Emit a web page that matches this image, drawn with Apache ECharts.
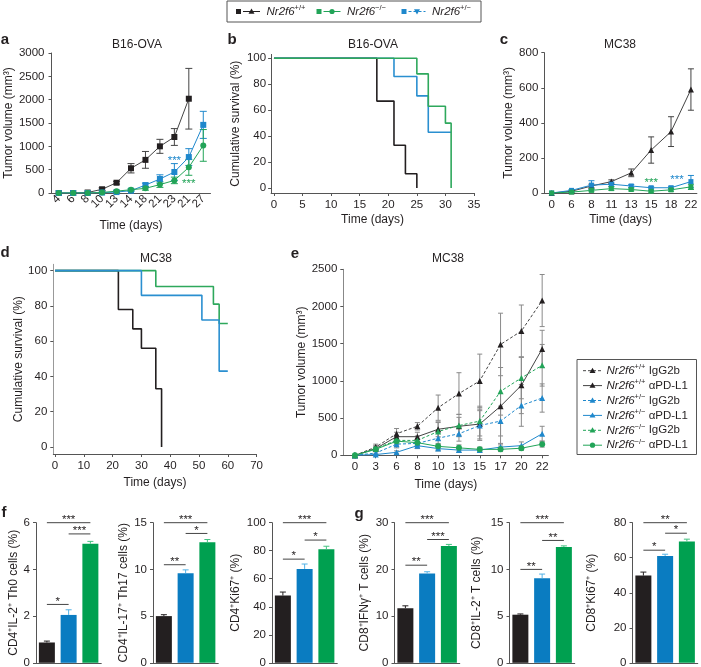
<!DOCTYPE html>
<html><head><meta charset="utf-8">
<script src="https://cdn.jsdelivr.net/npm/echarts@6/dist/echarts.min.js"></script>
<style>html,body{margin:0;padding:0;background:#fff}#c{width:701px;height:667px}</style>
</head><body><div id="c"></div>
<script>
// ---------- DATA ----------
// Panel a: B16-OVA tumor volume
const cats_a = ['4','6','8','10','13','14','18','21','23','21','27'];
const a_wt = [0,0,10,80,220,530,710,1000,1200,2020];
const a_wt_err = [0,0,5,30,30,100,180,150,180,650];
const a_het = [0,0,0,10,20,50,170,300,450,770,1460];
const a_het_err = [0,0,0,5,10,15,40,90,180,180,290];
const a_ko = [0,0,0,10,40,70,100,180,270,550,1020];
const a_ko_err = [0,0,0,5,10,20,40,60,70,170,340];
const a_notes = [[8,757,'***','het'],[9,264,'***','ko']];
// Panel b: B16-OVA survival
const b_wt_t = [0,18,21,23,25];  const b_wt_s = [100,67,33,11,0];
const b_het_t = [0,21,25,27,31]; const b_het_s = [100,86,71,43,43];
const b_ko_t = [0,25,27,30,31];  const b_ko_s = [100,88,63,50,0];
// Panel c: MC38 tumor volume
const cats_c = ['0','6','8','11','13','15','18','22'];
const c_wt = [0,10,40,65,115,245,350,590];
const c_wt_err = [0,5,10,10,22,75,85,118];
const c_het = [0,15,45,50,40,30,30,65];
const c_het_err = [0,5,25,12,8,6,8,35];
const c_ko = [0,5,15,25,20,10,18,35];
const c_ko_err = [0,3,8,10,8,5,8,15];
const c_notes = [[5,74,'***','ko'],[6.3,93,'***','het']];
// Panel d: MC38 survival
const d_wt_t = [0,22,27,30,35,37]; const d_wt_s = [100,78,67,56,33,0];
const d_het_t = [0,30,51,57,60];   const d_het_s = [100,86,72,43,43];
const d_ko_t = [0,35,55,57,60];    const d_ko_s = [100,91,81,70,70];
// Panel e: MC38 anti-PD-L1
const cats_e = ['0','3','6','8','10','13','15','17','20','22'];
const e_wt_igg = [0,110,290,390,640,830,1000,1490,1670,2080];
const e_wt_igg_err = [0,40,70,50,170,280,360,420,350,350];
const e_wt_pd = [0,90,250,250,350,390,420,660,940,1430];
const e_wt_pd_err = [0,40,60,60,100,120,200,520,380,250];
const e_het_igg = [0,30,150,160,230,290,400,460,670,770];
const e_het_igg_err = [0,20,50,50,80,100,200,200,280,190];
const e_het_pd = [0,10,40,130,90,70,70,110,130,290];
const e_het_pd_err = [0,10,20,40,30,30,30,50,50,100];
const e_ko_igg = [0,90,200,200,320,400,460,860,1040,1210];
const e_ko_igg_err = [0,30,60,60,120,150,200,320,280,280];
const e_ko_pd = [0,80,190,170,120,100,80,80,95,150];
const e_ko_pd_err = [0,30,50,40,40,40,30,30,30,40];
// Panels f, g: bar charts (order: +/+, +/-, -/-)
const groups = ['+/+','+/−','−/−'];
const f1 = [0.87,2.05,5.1],  f1_err = [0.06,0.22,0.1];
const f2 = [5.0,9.6,12.9],   f2_err = [0.15,0.35,0.3];
const f3 = [48,67,81],       f3_err = [2.5,3.5,2.2];
const g1 = [11.7,19.1,25.0], g1_err = [0.5,0.4,0.35];
const g2 = [5.15,9.05,12.4], g2_err = [0.08,0.45,0.12];
const g3 = [49.8,61,69.3],   g3_err = [2,1,1.3];
const f1_sig = [[0,1,2.5,'*'],[1,2,5.52,'***'],[0,2,6.0,'***']];
const f2_sig = [[0,1,10.5,'**'],[1,2,13.85,'*'],[0,2,15,'***']];
const f3_sig = [[0,1,74,'*'],[1,2,87.6,'*'],[0,2,100,'***']];
const g1_sig = [[0,1,20.9,'**'],[1,2,26.4,'***'],[0,2,30,'***']];
const g2_sig = [[0,1,10.0,'**'],[1,2,13.1,'**'],[0,2,15,'***']];
const g3_sig = [[0,1,64.3,'*'],[1,2,74,'*'],[0,2,80,'**']];

// ---------- STYLE ----------
const FONT = '"Liberation Sans", Arial, Helvetica, sans-serif';
const INK = '#231f20', AXC = '#555';
const BLACK = '#231f20', BLUE = '#1f88cc', GREEN = '#22a458';
const BAR_COL = ['#231f20','#0a7cc1','#00a050'];
const BAR_ERR = ['#231f20','#52b2e6','#45c282'];
const KM_BLUE = '#2a8fd0', KM_GREEN = '#2ea85c';

const grids = [], xAxes = [], yAxes = [], series = [], graphics = [];
const lab = {fontFamily: FONT, fontSize: 11.5, color: INK, formatter: v => String(v)};
const nameStyle = {fontFamily: FONT, fontSize: 12, color: INK};

function addGrid(g){ grids.push(Object.assign({outerBoundsMode:'none', containLabel:false}, g)); return grids.length-1; }
function axisBase(gi, o){
  const base = {gridIndex: gi, nameLocation:'middle', nameTextStyle: Object.assign({}, nameStyle),
    axisLine:{show:true, onZero:false, lineStyle:{color:AXC, width:1}},
    axisTick:{show:true, length:3, lineStyle:{color:AXC}},
    splitLine:{show:false}, axisLabel: Object.assign({}, lab)};
  for (const k in o){
    if (o[k] && typeof o[k]==='object' && !Array.isArray(o[k]) && base[k] && typeof base[k]==='object') base[k] = Object.assign({}, base[k], o[k]);
    else base[k] = o[k];
  }
  return base;
}
function errSeries(gi, xs, vals, errs, color, cap, upOnly){
  const data = [];
  vals.forEach((v,i)=>{ if (errs[i] > 0) data.push([xs[i], upOnly ? v : v-errs[i], v+errs[i]]); });
  return {type:'custom', xAxisIndex:gi, yAxisIndex:gi, silent:true, z: upOnly?3:3, data, encode:{x:0, y:[1,2]},
    renderItem:(p, api)=>{
      const x = api.value(0), a = api.coord([x, api.value(1)]), b = api.coord([x, api.value(2)]);
      const st = {stroke:color, lineWidth:1};
      const ch = [{type:'line', shape:{x1:a[0],y1:a[1],x2:b[0],y2:b[1]}, style:st},
                  {type:'line', shape:{x1:b[0]-cap,y1:b[1],x2:b[0]+cap,y2:b[1]}, style:st}];
      if (!upOnly) ch.push({type:'line', shape:{x1:a[0]-cap,y1:a[1],x2:a[0]+cap,y2:a[1]}, style:st});
      return {type:'group', children:ch};
    }};
}
function lineSeries(gi, data, color, symbol, o){
  return Object.assign({type:'line', xAxisIndex:gi, yAxisIndex:gi, data, symbol, symbolSize:6, showSymbol:true,
    lineStyle:{color, width:1}, itemStyle:{color}, z:4, silent:true}, o||{});
}
function noteSeries(gi, notes){
  return {type:'custom', xAxisIndex:gi, yAxisIndex:gi, silent:true, z:6, data: notes.map(n=>[n[0], n[1]]), encode:{x:0,y:1},
    renderItem:(p, api)=>{ const n = notes[p.dataIndex]; const c = api.coord([n[0], n[1]]);
      return {type:'text', style:{text:n[2], x:c[0], y:c[1]+3, align:'center', verticalAlign:'middle', fontFamily:FONT, fontSize:11.5, fill: n[3]==='het'?BLUE:GREEN}}; }};
}
function sigSeries(gi, sig){
  return {type:'custom', xAxisIndex:gi, yAxisIndex:gi, silent:true, z:6, data: sig.map(s=>[s[0], s[1], s[2]]), encode:{x:[0,1], y:2},
    renderItem:(p, api)=>{ const s = sig[p.dataIndex]; const a = api.coord([s[0], s[2]]), b = api.coord([s[1], s[2]]);
      return {type:'group', children:[
        {type:'line', shape:{x1:a[0],y1:a[1],x2:b[0],y2:b[1]}, style:{stroke:'#444', lineWidth:1}},
        {type:'text', style:{text:s[3], x:(a[0]+b[0])/2, y:a[1]+3, align:'center', verticalAlign:'bottom', fontFamily:FONT, fontSize:11.5, fill:INK}}]}; }};
}
const idx = arr => arr.map((_,i)=>i);
const pairs = (xs, ys) => xs.map((x,i)=>[x, ys[i]]);

// ---------- PANEL a ----------
let gi = addGrid({left:51.5, top:53, width:159, height:140});
xAxes.push(axisBase(gi, {type:'category', data:cats_a, boundaryGap:true, axisTick:{show:false}, axisLabel:{rotate:45, margin:4, interval:0}, name:'Time (days)', nameGap:27}));
yAxes.push(axisBase(gi, {type:'value', min:0, max:3000, interval:500, axisLabel:{margin:7}, name:'Tumor volume (mm³)', nameGap:33}));
series.push(errSeries(gi, idx(a_wt), a_wt, a_wt_err, '#444', 3.5));
series.push(errSeries(gi, idx(a_het), a_het, a_het_err, BLUE, 3.5));
series.push(errSeries(gi, idx(a_ko), a_ko, a_ko_err, GREEN, 3.5));
series.push(lineSeries(gi, a_wt, BLACK, 'rect', {lineStyle:{color:'#444',width:1}}));
series.push(lineSeries(gi, a_het, BLUE, 'rect'));
series.push(lineSeries(gi, a_ko, GREEN, 'circle'));
series.push(noteSeries(gi, a_notes));

// ---------- PANEL b ----------
gi = addGrid({left:271.1, top:54.4, width:202.9, height:138.6});
xAxes.push(axisBase(gi, {type:'value', min:-0.5, max:35, axisLabel:{customValues:[0,5,10,15,20,25,30,35], margin:6}, axisTick:{customValues:[0,5,10,15,20,25,30,35]}, name:'Time (days)', nameGap:21}));
yAxes.push(axisBase(gi, {type:'value', min:-3.86, max:103, axisLabel:{customValues:[0,20,40,60,80,100], margin:5}, axisTick:{customValues:[0,20,40,60,80,100]}, name:'Cumulative survival (%)', nameGap:29}));
series.push(lineSeries(gi, pairs(b_wt_t, b_wt_s), BLACK, 'none', {step:'end', lineStyle:{color:BLACK,width:1.6}}));
series.push(lineSeries(gi, pairs(b_het_t, b_het_s), KM_BLUE, 'none', {step:'end', lineStyle:{color:KM_BLUE,width:1.6}}));
series.push(lineSeries(gi, pairs(b_ko_t, b_ko_s), KM_GREEN, 'none', {step:'end', lineStyle:{color:KM_GREEN,width:1.6}}));

// ---------- PANEL c ----------
gi = addGrid({left:544.3, top:52.7, width:152.6, height:140.3});
xAxes.push(axisBase(gi, {type:'value', min:-0.37, max:7.3, axisTick:{show:false}, axisLabel:{customValues:idx(cats_c), formatter:v=>cats_c[Math.round(v)], margin:6}, name:'Time (days)', nameGap:21}));
yAxes.push(axisBase(gi, {type:'value', min:0, max:800, interval:200, axisLabel:{margin:6}, name:'Tumor volume (mm³)', nameGap:30}));
series.push(errSeries(gi, idx(c_wt), c_wt, c_wt_err, '#444', 3));
series.push(errSeries(gi, idx(c_het), c_het, c_het_err, BLUE, 3));
series.push(errSeries(gi, idx(c_ko), c_ko, c_ko_err, GREEN, 3));
series.push(lineSeries(gi, pairs(idx(c_wt), c_wt), BLACK, 'triangle', {lineStyle:{color:'#444',width:1}}));
series.push(lineSeries(gi, pairs(idx(c_het), c_het), BLUE, 'rect', {symbolSize:5}));
series.push(lineSeries(gi, pairs(idx(c_ko), c_ko), GREEN, 'rect', {symbolSize:5}));
series.push(noteSeries(gi, c_notes));

// ---------- PANEL d ----------
gi = addGrid({left:53.3, top:264.3, width:203.3, height:189.7});
xAxes.push(axisBase(gi, {type:'value', min:-0.6, max:70, axisLabel:{customValues:[0,10,20,30,40,50,60,70], margin:6}, axisTick:{customValues:[0,10,20,30,40,50,60,70]}, name:'Time (days)', nameGap:23}));
yAxes.push(axisBase(gi, {type:'value', min:-3.97, max:103.6, axisLine:{lineStyle:{color:'#999'}}, axisLabel:{customValues:[0,20,40,60,80,100], margin:6}, axisTick:{customValues:[0,20,40,60,80,100]}, name:'Cumulative survival (%)', nameGap:26}));
series.push(lineSeries(gi, pairs(d_wt_t, d_wt_s), BLACK, 'none', {step:'end', lineStyle:{color:BLACK,width:1.6}}));
series.push(lineSeries(gi, pairs(d_ko_t, d_ko_s), KM_GREEN, 'none', {step:'end', lineStyle:{color:KM_GREEN,width:1.6}}));
series.push(lineSeries(gi, pairs(d_het_t, d_het_s), KM_BLUE, 'none', {step:'end', lineStyle:{color:KM_BLUE,width:1.6}}));

// ---------- PANEL e ----------
gi = addGrid({left:343.3, top:269.3, width:205.1, height:186});
xAxes.push(axisBase(gi, {type:'value', min:-0.56, max:9.3, axisLabel:{customValues:idx(cats_e), formatter:v=>cats_e[Math.round(v)], margin:6}, axisTick:{customValues:idx(cats_e)}, name:'Time (days)', nameGap:23}));
yAxes.push(axisBase(gi, {type:'value', min:0, max:2500, interval:500, axisLine:{lineStyle:{color:'#888'}}, axisLabel:{margin:6}, name:'Tumor volume (mm³)', nameGap:33}));
const eSets = [
  [e_wt_igg, e_wt_igg_err, BLACK, 'triangle', 'dashed'],
  [e_wt_pd, e_wt_pd_err, BLACK, 'triangle', 'solid'],
  [e_het_igg, e_het_igg_err, BLUE, 'triangle', 'dashed'],
  [e_het_pd, e_het_pd_err, BLUE, 'triangle', 'solid'],
  [e_ko_igg, e_ko_igg_err, GREEN, 'triangle', 'dashed'],
  [e_ko_pd, e_ko_pd_err, GREEN, 'circle', 'solid']];
eSets.forEach(s=>series.push(errSeries(gi, idx(s[0]), s[0], s[1], '#8a8a8a', 2.5)));
eSets.forEach(s=>series.push(lineSeries(gi, pairs(idx(s[0]), s[0]), s[2], s[3], {symbolSize:6, lineStyle:{color:s[2]===BLACK?'#444':s[2], width:1, type:s[4]==='dashed'?[3,2]:'solid'}})));

// ---------- BAR PANELS ----------
const barPanels = [
  [36, f1, f1_err, f1_sig, 6, 2, 'CD4⁺IL-2⁺ Th0 cells (%)', 12.5],
  [153, f2, f2_err, f2_sig, 15, 5, 'CD4⁺IL-17⁺ Th17 cells (%)', 23.5],
  [272, f3, f3_err, f3_sig, 100, 20, 'CD4⁺Ki67⁺ (%)', 30.5],
  [394.5, g1, g1_err, g1_sig, 30, 10, 'CD8⁺IFNγ⁺ T cells (%)', 23.5],
  [509.5, g2, g2_err, g2_sig, 15, 5, 'CD8⁺IL-2⁺ T cells (%)', 26.5],
  [632.5, g3, g3_err, g3_sig, 80, 20, 'CD8⁺Ki67⁺ (%)', 34.5]];
barPanels.forEach(bp=>{
  const g = addGrid({left:bp[0], top:522.7, width:65.25, height:140.1});
  xAxes.push(axisBase(g, {type:'category', data:groups, boundaryGap:true, axisTick:{show:false}, axisLabel:{show:false}}));
  yAxes.push(axisBase(g, {type:'value', min:0, max:bp[4], interval:bp[5], axisLabel:{margin:6}, name:bp[6], nameGap:bp[7]}));
  series.push({type:'bar', xAxisIndex:g, yAxisIndex:g, barWidth:16, silent:true, z:2,
    data: bp[1].map((v,i)=>({value:v, itemStyle:{color:BAR_COL[i]}}))});
  bp[1].forEach((v,i)=>{ series.push(errSeries(g, [i], [v], [bp[2][i]], BAR_ERR[i], 3, true)); });
  series.push(sigSeries(g, bp[3]));
});

// ---------- TEXT / LEGENDS ----------
const letter = (t,x,y)=>graphics.push({type:'text', style:{text:t, x, y, align:'center', verticalAlign:'middle', fontFamily:FONT, fontSize:15, fontWeight:'bold', fill:INK}});
letter('a',5,40); letter('b',232,40); letter('c',504,40); letter('d',5,253); letter('e',295,254); letter('f',4,513); letter('g',359,514);
const title = (t,x,y)=>graphics.push({type:'text', style:{text:t, x, y, align:'center', verticalAlign:'middle', fontFamily:FONT, fontSize:12, fill:INK}});
title('B16-OVA',137,45); title('B16-OVA',373,45); title('MC38',620,45); title('MC38',156,259); title('MC38',448,259);

const richDef = {i:{fontStyle:'italic', fontSize:11.5, lineHeight:15, fill:INK, fontFamily:FONT},
                 s:{fontSize:7.5, verticalAlign:'top', lineHeight:9, fill:INK, fontFamily:FONT},
                 n:{fontSize:11.5, lineHeight:15, fill:INK, fontFamily:FONT}};
function legText(x, y, sup, rest){
  graphics.push({type:'text', style:{text:'{i|Nr2f6}{s|'+sup+'}'+(rest?'{n|'+rest+'}':''), rich:richDef, x, y, align:'left', verticalAlign:'middle', fontFamily:FONT, fontSize:11.5, fill:INK}});
}
function marker(kind, cx, cy, color){
  if (kind==='tri') graphics.push({type:'polygon', shape:{points:[[cx,cy-3],[cx-3,cy+2.2],[cx+3,cy+2.2]]}, style:{fill:color}});
  else if (kind==='itri') graphics.push({type:'polygon', shape:{points:[[cx,cy+3],[cx-3,cy-2.2],[cx+3,cy-2.2]]}, style:{fill:color}});
  else graphics.push({type:'circle', shape:{cx, cy, r:2.6}, style:{fill:color}});
}
function legLine(x1, x2, y, color, dashed){
  graphics.push({type:'line', shape:{x1, y1:y, x2, y2:y}, style:{stroke:color, lineWidth:1, lineDash: dashed?[3,2]:null}});
}
// top legend
graphics.push({type:'rect', shape:{x:227, y:1, width:254, height:21}, style:{fill:'none', stroke:'#555', lineWidth:1}});
[[236, BLACK, 'tri', false, '+/+'], [316.5, GREEN, 'circle', false, '−/−'], [401.5, BLUE, 'itri', true, '+/−']].forEach(e=>{
  const x = e[0];
  graphics.push({type:'rect', shape:{x, y:9, width:5, height:5}, style:{fill:e[1]}});
  legLine(x+7, x+24, 11.5, e[1], e[3]);
  marker(e[2], x+15.5, 11.5, e[1]);
  legText(x+30.5, 11.5, e[4], '');
});
// panel e legend
graphics.push({type:'rect', shape:{x:577, y:359.5, width:119.5, height:95}, style:{fill:'#fff', stroke:'#555', lineWidth:1}});
const eLeg = [['+/+',' IgG2b',BLACK,'tri',true],['+/+',' αPD-L1',BLACK,'tri',false],['+/−',' IgG2b',BLUE,'tri',true],
              ['+/−',' αPD-L1',BLUE,'tri',false],['−/−',' IgG2b',GREEN,'tri',true],['−/−',' αPD-L1',GREEN,'circle',false]];
eLeg.forEach((e,i)=>{
  const y = 370.7 + i*14.9;
  legLine(583, 602, y, e[2]===BLACK?'#444':e[2], e[4]);
  marker(e[3], 592.5, y, e[2]);
  legText(606.5, y, e[0], e[1]);
});

const chart = echarts.init(document.getElementById('c'), null, {renderer:'canvas'});
chart.setOption({animation:false, backgroundColor:'#fff', grid:grids, xAxis:xAxes, yAxis:yAxes, series, graphic:graphics, tooltip:{show:false}});
</script></body></html>
